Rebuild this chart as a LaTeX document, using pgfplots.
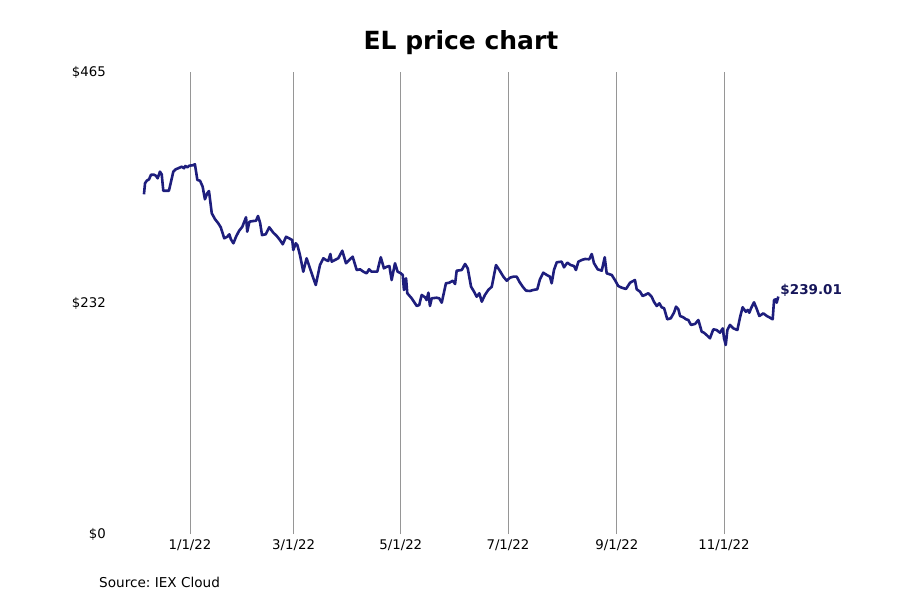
\documentclass[border=0pt]{standalone}
\usepackage{fontspec}
\setmainfont{DejaVu Sans}
\usepackage{pgfplots}
\pgfplotsset{compat=1.18}
\definecolor{priceline}{RGB}{30,30,125}
\definecolor{pricelabel}{RGB}{22,22,90}
\definecolor{gridgray}{RGB}{150,150,150}
\frenchspacing
% x = days since 1 Jan 2022, y = close price in dollars
\pgfplotstableread{
day price
-26.2 341.9
-25.6 353.0
-24.6 355.6
-23.3 357.0
-22.2 361.6
-20.5 361.6
-19.4 360.6
-18.4 358.0
-17.1 364.7
-16.1 362.0
-15.2 345.5
-12.0 345.5
-10.8 354.6
-9.5 364.7
-8.1 367.1
-6.7 368.1
-4.7 369.7
-3.4 368.1
-2.7 370.4
-1.5 369.1
-0.4 370.7
1.5 371.1
2.8 372.1
4.2 356.3
5.7 355.6
7.2 349.6
8.5 336.9
9.8 342.9
10.8 345.2
12.4 322.8
14.2 317.0
16.1 312.7
17.5 308.7
19.5 297.6
21.2 299.2
22.4 301.6
23.3 296.6
24.7 292.6
26.2 299.2
27.9 305.0
29.8 309.3
31.9 318.8
32.6 304.3
33.8 314.3
36.0 315.0
37.6 315.3
38.7 320.1
39.9 313.3
41.0 300.9
43.1 301.6
45.1 308.7
47.4 303.3
49.4 299.9
51.2 295.9
52.8 291.6
54.7 299.2
56.4 297.6
58.2 295.9
58.8 285.8
60.2 292.6
61.1 290.9
62.6 280.8
64.5 264.0
66.4 277.5
68.3 267.4
69.9 259.0
71.6 250.6
74.0 270.7
75.9 277.5
77.4 275.8
78.7 274.8
79.9 281.8
80.7 274.1
82.5 275.8
84.4 277.5
86.7 285.1
88.8 272.5
90.7 275.8
92.6 279.1
94.9 265.7
96.8 266.4
98.7 264.0
100.6 262.4
101.9 266.4
103.4 264.0
106.6 264.0
108.6 278.5
110.4 267.4
112.0 269.0
113.5 269.7
114.8 255.6
116.7 272.5
118.2 264.0
120.0 262.4
121.1 260.7
121.8 245.6
123.0 257.4
123.7 242.3
126.2 237.2
129.1 229.5
130.5 230.5
131.9 240.6
133.8 238.2
134.7 235.5
135.7 242.9
136.6 229.5
137.6 237.2
140.4 237.8
141.9 237.2
143.3 232.8
145.7 252.3
147.6 252.9
149.6 254.9
150.9 251.6
151.8 265.0
154.7 265.7
156.6 271.8
158.1 267.4
160.0 248.9
161.7 243.9
163.2 238.8
164.7 242.3
166.1 233.8
167.9 240.6
169.8 245.6
171.8 248.9
174.2 270.7
176.1 265.7
178.4 259.0
180.3 254.9
182.2 258.0
184.1 259.0
186.0 259.0
187.5 253.9
189.4 248.9
191.3 244.9
193.6 244.6
195.4 245.6
197.7 246.3
199.2 256.3
201.1 263.0
203.1 260.7
204.9 259.0
205.9 252.3
207.2 265.7
208.8 273.5
211.6 274.1
212.9 268.4
214.8 273.1
216.7 270.7
218.6 269.7
219.7 265.7
221.1 274.1
223.0 275.8
224.9 276.8
227.3 276.5
228.7 281.8
230.0 272.5
232.1 266.4
234.4 265.0
236.1 278.5
237.2 262.4
240.1 260.7
241.9 255.6
243.8 249.6
245.8 247.9
248.2 246.6
250.5 252.9
253.3 255.6
254.3 246.3
256.2 243.9
257.7 239.5
259.0 240.6
260.9 242.3
262.8 238.8
264.1 233.8
265.7 229.5
267.2 232.2
268.5 228.2
269.9 227.2
271.7 216.1
273.7 217.1
275.5 222.7
276.7 228.8
278.0 226.2
279.0 219.4
280.8 218.1
282.4 216.1
283.7 215.4
285.2 210.4
287.5 211.4
289.4 215.4
291.3 203.6
292.6 202.6
294.5 199.6
296.0 197.0
297.9 206.0
299.8 205.3
301.7 202.6
303.3 207.0
304.0 197.0
305.0 190.2
305.9 205.3
307.4 210.4
309.3 207.0
311.6 205.3
313.2 218.7
314.6 228.2
316.4 223.7
317.5 225.5
318.4 222.7
319.4 227.2
321.1 233.2
322.7 226.2
324.1 219.4
326.4 222.1
328.4 219.4
329.8 218.1
331.7 216.1
332.5 235.5
333.4 236.2
334.0 232.8
334.9 239.01
}\pricedata

\begin{document}
\begin{tikzpicture}
\useasboundingbox (0,0) rectangle (900bp,600bp);
\begin{axis}[
    at={(110bp,66bp)}, anchor=south west,
    scale only axis,
    width=690bp, height=462bp,
    xmin=-45.54, xmax=347.26,
    ymin=0, ymax=465,
    clip=false,
    axis line style={draw=none},
    major tick length=0pt,
    xtick={0,59,120,181,243,304},
    xticklabels={1/1/22,3/1/22,5/1/22,7/1/22,9/1/22,11/1/22},
    ytick={0,232.5,465},
    yticklabels={\$0,\$232,\$465},
    xmajorgrids=true,
    grid style={draw=gridgray, line width=0.8bp},
    ticklabel style={font=\fontsize{13.3bp}{16bp}\selectfont, inner sep=0pt},
    xticklabel style={anchor=north, yshift=-5bp},
    yticklabel style={anchor=east, xshift=-4bp},
]
\addplot[priceline, line width=2.6bp, line join=round, no marks] table[x=day, y=price] {\pricedata};
\node[anchor=west, inner sep=0pt, xshift=2bp, yshift=6bp,
      font=\fontsize{13.5bp}{16bp}\selectfont\bfseries, text=pricelabel]
      at (axis cs:334.9,239.01) {\$239.01};
\end{axis}
\node[font=\fontsize{25bp}{30bp}\selectfont\bfseries] at (461bp,557bp) {EL price chart};
\node[anchor=west, inner sep=0pt, font=\fontsize{13.6bp}{16bp}\selectfont] at (99bp,18bp) {Source: IEX Cloud};
\end{tikzpicture}
\end{document}
